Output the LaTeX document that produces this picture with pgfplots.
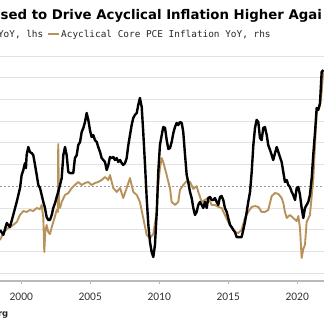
\documentclass[border=0pt]{standalone}
\usepackage{fontspec}
\usepackage{pgfplots}
\pgfplotsset{compat=1.18}
\setmainfont{DejaVu Sans}
\newfontfamily\monofont{DejaVu Sans Mono}
\newfontfamily\tickfont{Carlito}
\definecolor{tanline}{RGB}{185,145,90}
\definecolor{gridc}{RGB}{226,226,226}
\definecolor{axisc}{RGB}{185,185,185}
\pgfplotstableread{
x y
1998.46 -2.01
1998.70 -2.24
1998.95 -1.69
1999.18 -1.88
1999.42 -1.32
1999.67 -0.72
1999.79 -0.40
1999.91 -0.08
2000.03 0.52
2000.15 0.75
2000.27 1.07
2000.34 0.84
2000.39 1.44
2000.51 1.81
2000.63 1.58
2000.76 1.53
2000.87 1.44
2001.00 0.98
2001.12 0.52
2001.24 0.06
2001.36 -0.08
2001.48 -0.40
2001.60 -0.72
2001.72 -1.00
2001.84 -1.42
2001.96 -1.55
2002.08 -1.55
2002.21 -1.32
2002.32 -1.00
2002.45 -0.77
2002.57 -0.49
2002.68 -0.26
2002.81 0.06
2002.93 0.38
2003.05 1.44
2003.17 1.81
2003.29 1.44
2003.41 0.66
2003.53 0.61
2003.66 0.61
2003.77 0.61
2003.89 1.30
2004.02 1.44
2004.13 1.90
2004.26 2.04
2004.38 2.50
2004.50 2.69
2004.62 2.96
2004.74 3.38
2004.86 3.06
2004.98 2.59
2005.10 2.27
2005.22 2.36
2005.34 2.13
2005.47 2.04
2005.58 1.81
2005.71 1.58
2005.83 1.30
2005.95 1.21
2006.07 1.12
2006.19 0.75
2006.31 0.98
2006.43 1.35
2006.55 1.30
2006.67 1.35
2006.79 1.21
2006.92 1.30
2007.03 1.12
2007.16 1.21
2007.28 1.07
2007.39 0.98
2007.52 1.07
2007.64 1.30
2007.76 1.90
2007.88 2.36
2008.00 2.82
2008.12 3.15
2008.24 3.29
2008.37 3.38
2008.48 3.75
2008.60 4.07
2008.73 3.65
2008.84 2.50
2008.97 0.98
2009.09 -0.54
2009.21 -1.78
2009.33 -2.57
2009.45 -3.03
2009.57 -3.26
2009.69 -2.70
2009.82 -1.18
2009.93 0.66
2010.05 1.90
2010.18 2.36
2010.29 2.73
2010.42 2.69
2010.54 2.13
2010.66 1.72
2010.78 1.76
2010.90 2.04
2011.02 2.45
2011.14 2.73
2011.26 2.92
2011.38 2.82
2011.50 2.96
2011.63 2.92
2011.74 2.50
2011.87 1.44
2011.99 0.52
2012.10 0.20
2012.23 -0.26
2012.35 -0.54
2012.47 -1.00
2012.59 -1.32
2012.71 -1.18
2012.83 -0.86
2012.95 -0.72
2013.08 -0.86
2013.19 -1.00
2013.31 -0.72
2013.44 -1.00
2013.55 -0.54
2013.68 -0.49
2013.80 -0.63
2013.92 -0.63
2014.04 -0.54
2014.16 -0.72
2014.28 -0.86
2014.40 -0.49
2014.52 -0.45
2014.64 -0.63
2014.76 -1.00
2014.89 -1.18
2015.00 -1.46
2015.13 -1.78
2015.25 -1.88
2015.37 -2.01
2015.49 -2.11
2015.61 -2.34
2015.73 -2.34
2015.85 -2.34
2015.97 -2.34
2016.09 -2.01
2016.21 -1.65
2016.34 -1.18
2016.45 -0.72
2016.58 -0.26
2016.70 0.66
2016.82 1.90
2016.94 2.69
2017.06 3.06
2017.18 2.96
2017.30 2.23
2017.42 2.13
2017.54 2.69
2017.66 2.73
2017.79 2.36
2017.90 1.90
2018.03 1.67
2018.15 1.44
2018.26 1.21
2018.39 1.53
2018.51 1.81
2018.63 1.58
2018.75 1.35
2018.87 1.12
2018.99 0.66
2019.11 0.20
2019.24 0.29
2019.35 0.06
2019.47 -0.03
2019.60 -0.26
2019.71 -0.40
2019.84 -0.63
2019.96 -0.08
2020.08 -0.03
2020.20 -0.40
2020.32 -1.00
2020.44 -1.46
2020.56 -1.00
2020.68 -0.86
2020.80 -0.72
2020.92 -0.40
2021.05 0.38
2021.16 1.44
2021.29 2.50
2021.41 3.61
2021.53 3.52
2021.65 3.84
2021.77 5.27
2021.89 5.36
}\blackdata
\pgfplotstableread{
x y
1998.46 -2.48
1998.70 -2.15
1998.95 -1.97
1999.18 -1.88
1999.42 -1.78
1999.67 -1.65
1999.91 -1.32
2000.15 -1.14
2000.39 -1.18
2000.63 -1.09
2000.87 -1.14
2001.12 -1.00
2001.36 -1.05
2001.48 -0.86
2001.60 -1.46
2001.67 -3.03
2001.74 -2.11
2001.84 -1.78
2001.96 -2.11
2002.08 -2.20
2002.21 -1.88
2002.32 -1.65
2002.45 -1.37
2002.57 -1.09
2002.65 -1.18
2002.68 1.95
2002.74 -0.86
2002.81 -1.00
2002.93 -0.72
2003.17 -0.40
2003.41 -0.31
2003.66 -0.08
2003.89 0.06
2004.13 0.20
2004.38 0.06
2004.62 0.15
2004.86 0.20
2005.10 0.06
2005.34 0.15
2005.58 0.20
2005.83 0.29
2006.07 0.43
2006.31 0.29
2006.43 0.52
2006.67 -0.08
2006.92 -0.26
2007.16 -0.08
2007.39 -0.54
2007.64 -0.08
2007.88 0.38
2008.12 -0.26
2008.37 -0.40
2008.60 -0.72
2008.84 -1.46
2009.09 -2.24
2009.33 -2.38
2009.57 -2.20
2009.82 -1.18
2009.93 0.06
2010.05 0.84
2010.18 1.30
2010.29 1.12
2010.54 0.52
2010.66 0.20
2010.78 -0.08
2010.90 -0.72
2011.14 -0.86
2011.38 -0.72
2011.50 -0.17
2011.74 0.06
2011.99 0.24
2012.23 0.20
2012.47 -0.12
2012.71 0.01
2012.83 -0.26
2013.08 -0.72
2013.31 -0.63
2013.55 -0.54
2013.80 -0.86
2014.04 -0.86
2014.28 -0.95
2014.52 -1.00
2014.76 -1.32
2015.00 -1.65
2015.25 -1.92
2015.49 -2.11
2015.73 -2.15
2015.97 -2.01
2016.21 -1.46
2016.45 -1.18
2016.70 -0.95
2016.94 -0.91
2017.18 -0.95
2017.42 -1.18
2017.66 -1.18
2017.90 -1.09
2018.15 -0.45
2018.39 -0.31
2018.63 -0.35
2018.87 -0.54
2018.99 -0.77
2019.11 -1.18
2019.24 -1.46
2019.47 -1.32
2019.71 -1.46
2019.96 -1.60
2020.08 -1.37
2020.20 -1.92
2020.32 -3.30
2020.44 -2.89
2020.56 -2.70
2020.68 -1.65
2020.92 -1.32
2021.16 0.29
2021.41 3.42
2021.53 3.61
2021.65 3.70
2021.77 4.34
2021.89 5.36
}\tandata
\begin{document}
\begin{tikzpicture}[x=1pt,y=1pt]
\useasboundingbox (0,0) rectangle (324,330);
\clip (0,0) rectangle (324,330);
\begin{axis}[
  at={(0pt,280pt)}, anchor=north west, scale only axis,
  width=324pt, height=231pt,
  xmin=1998.46, xmax=2021.94, ymin=-4.364, ymax=6.281,
  axis x line*=bottom, axis y line*=left,
  x axis line style={draw=axisc, line width=1.2pt},
  y axis line style={draw=none},
  xtick={2000,2005,2010,2015,2020},
  xticklabels={2000,2005,2010,2015,2020},
  xticklabel style={font=\tickfont\fontsize{11.5}{12}\selectfont, anchor=north, inner sep=0pt, yshift=-9pt, text=black!80},
  tick align=outside, major tick length=3pt,
  xtick style={draw=axisc, line width=0.8pt},
  ytick={-4,-3,-2,-1,1,2,3,4,5,6},
  yticklabels={}, ytick style={draw=none},
  ymajorgrids, grid style={draw=gridc, line width=0.9pt},
  extra y ticks={0}, extra y tick labels={},
  extra y tick style={grid style={draw=black!40, dashed, dash pattern=on 2pt off 2pt, line width=0.8pt}},
  clip=false,
]
\addplot[tanline, line width=1.9pt, line join=round] table[x=x,y=y] {\tandata};
\addplot[black, line width=2.4pt, line join=round] table[x=x,y=y] {\blackdata};
\end{axis}
\node[anchor=base west, inner sep=0pt, font=\bfseries\fontsize{13.3}{15}\selectfont] at (0.5,310.7) {sed to Drive Acyclical Inflation Higher Agai};
\node[anchor=base east, inner sep=0pt, font=\monofont\fontsize{9.4}{11}\selectfont, text=black!85] at (43.5,292.7) {YoY, lhs};
\draw[tanline, line width=2pt] (48,296) -- (58.5,296);
\node[anchor=base west, inner sep=0pt, font=\monofont\fontsize{9.4}{11}\selectfont, text=black!85] at (61,292.7) {Acyclical Core PCE Inflation YoY, rhs};
\node[anchor=base east, inner sep=0pt, font=\bfseries\fontsize{8.5}{10}\selectfont, text=black!85] at (8.5,13) {rg};
\end{tikzpicture}
\end{document}
